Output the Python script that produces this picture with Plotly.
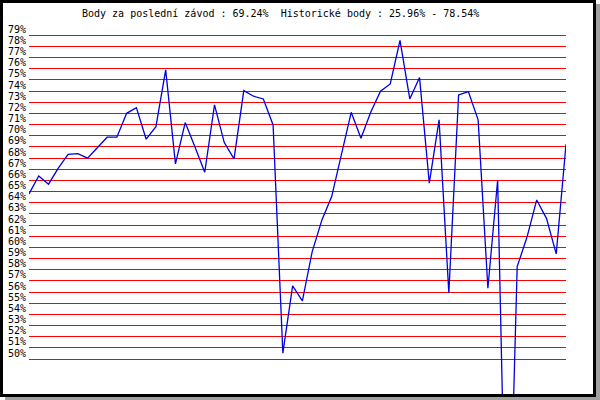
import plotly.graph_objs as go

# results of each race, in percent
races = list(range(56))
points = [64.79, 66.4, 65.66, 67.1, 68.34, 68.4, 67.99, 68.95, 69.87, 69.87,
          72.01, 72.52, 69.69, 70.82, 75.9, 67.48, 71.18, 69.0, 66.73, 72.76,
          69.39, 67.93, 74.04, 73.54, 73.3, 70.97, 50.52, 56.55, 55.21, 59.6,
          62.46, 64.55, 68.3, 72.1, 69.78, 72.1, 74.0, 74.64, 78.54, 73.3,
          75.21, 65.75, 71.42, 55.9, 73.66, 73.96, 71.42, 56.34, 66.04, 25.96,
          58.28, 60.9, 64.25, 62.6, 59.42, 69.24]

tick_vals = list(range(50, 80))
tick_text = ['%d%%' % v for v in tick_vals]

title_text = 'Body za poslední závod : 69.24%  Historické body : 25.96% - 78.54%'

W, H = 600, 400
L, R, T, B = 29, 566, 25, 394   # plot area in pixels


def px(x):
    return (x - L) / (R - L)


def py(y):
    return (B - y) / (B - T)


# y range so that 79% sits at y=35.3px and 50% at y=359px
k = (359 - 35.3) / 29.0
y_top = 79 + (35.3 - T) / k
y_bot = 50 - (B - 359) / k

fig = go.Figure()

trace = go.Scatter(x=races, y=points, mode='lines',
                   line=dict(color='#0000dd', width=1.3),
                   hoverinfo='skip')
fig.add_trace(trace)

mono = 'DejaVu Sans Mono'

layout = go.Layout(
    width=W, height=H,
    margin=dict(l=L, r=W - R, t=T, b=H - B, pad=0),
    paper_bgcolor='white', plot_bgcolor='white',
    showlegend=False,
    xaxis=dict(range=[0, 55], showgrid=False, zeroline=False,
               showticklabels=False, showline=False, automargin=False),
    yaxis=dict(range=[y_bot, y_top], tickvals=tick_vals, ticktext=tick_text,
               showgrid=True, gridcolor='#ff0000', gridwidth=1,
               zeroline=False, showline=False, ticks='', automargin=False,
               ticklabelshift=-6, ticklabelstandoff=2,
               tickfont=dict(family=mono, size=10, color='black')),
)
fig.update_layout(layout)

fig.add_annotation(text=title_text, xref='paper', yref='paper',
                   x=px(280), y=py(14), xanchor='center', yanchor='middle',
                   showarrow=False,
                   font=dict(family=mono, size=10, color='black'))

# frame with a grey drop shadow
fig.add_shape(type='rect', xref='paper', yref='paper', layer='above',
              x0=px(596), x1=px(600), y0=py(4), y1=py(400),
              fillcolor='#a0a0a0', line=dict(width=0))
fig.add_shape(type='rect', xref='paper', yref='paper', layer='above',
              x0=px(5), x1=px(600), y0=py(397), y1=py(400),
              fillcolor='#a0a0a0', line=dict(width=0))
fig.add_shape(type='rect', xref='paper', yref='paper', layer='above',
              x0=px(1.5), x1=px(594.5), y0=py(1.5), y1=py(395.5),
              fillcolor='rgba(0,0,0,0)',
              line=dict(color='black', width=3))

# page margin off so the 600x400 figure fills the window
fig.write_html('out.html', config={'displayModeBar': False},
               post_script="document.body.style.margin='0';"
                           "document.body.style.overflow='hidden';")
